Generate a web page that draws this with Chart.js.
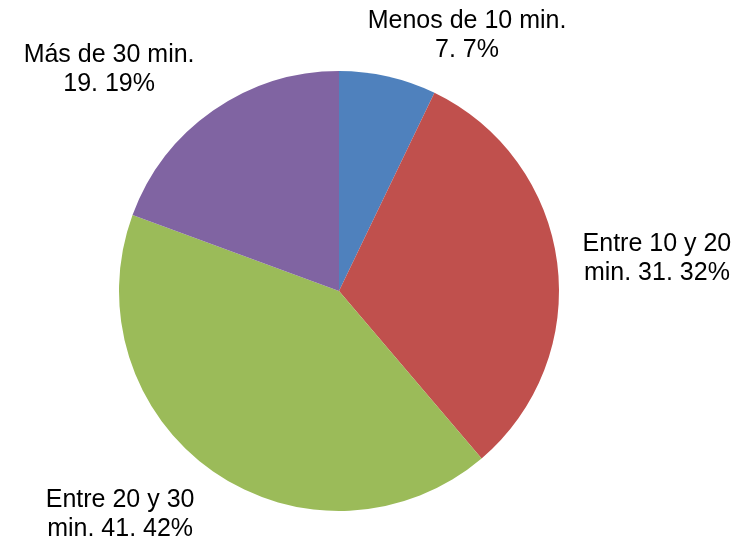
<!DOCTYPE html>
<html>
<head>
<meta charset="utf-8">
<script src="https://cdn.jsdelivr.net/npm/chart.js@4/dist/chart.umd.min.js"></script>
<style>
  html, body { margin: 0; padding: 0; background: #fff; }
  #wrap { width: 747px; height: 541px; }
</style>
</head>
<body>
<div id="wrap"><canvas id="myChart" width="747" height="541"></canvas></div>
<script>
const categories = ["Menos de 10 min.", "Entre 10 y 20 min.", "Entre 20 y 30 min.", "Más de 30 min."];
const values = [7, 31, 41, 19];
const colors = ["#4F81BD", "#C0504D", "#9BBB59", "#8064A2"];
// where each label sits, in units of the pie radius from its centre
const labelPos = [[0.582, -1.159], [1.445, -0.145], [-0.995, 1.016], [-1.045, -1.007]];
const wrapWidth = [212, 170, 170, 200];

const total = values.reduce((a, b) => a + b, 0);

function wrapText(ctx, text, maxW) {
  const words = text.split(" ");
  const lines = [];
  let line = "";
  words.forEach((w) => {
    const test = line ? line + " " + w : w;
    if (ctx.measureText(test).width > maxW && line) {
      lines.push(line);
      line = w;
    } else {
      line = test;
    }
  });
  if (line) lines.push(line);
  return lines;
}

// draws the outside labels like "Menos de 10 min. 7. 7%"
const outsideLabels = {
  id: "outsideLabels",
  afterDatasetsDraw(chart) {
    const ctx = chart.ctx;
    const arcs = chart.getDatasetMeta(0).data;
    if (!arcs.length) return;
    const cx = arcs[0].x;
    const cy = arcs[0].y;
    const r = arcs[0].outerRadius;
    ctx.save();
    ctx.font = '25px "Liberation Sans", Arial, sans-serif';
    ctx.fillStyle = "#000";
    ctx.textAlign = "center";
    ctx.textBaseline = "middle";
    const lineH = 29;
    categories.forEach((cat, i) => {
      const pct = Math.round((values[i] / total) * 100);
      const text = cat + " " + values[i] + ". " + pct + "%";
      const lines = wrapText(ctx, text, wrapWidth[i]);
      const x = cx + labelPos[i][0] * r;
      const y = cy + labelPos[i][1] * r;
      const y0 = y - ((lines.length - 1) * lineH) / 2;
      lines.forEach((ln, j) => ctx.fillText(ln, x, y0 + j * lineH));
    });
    ctx.restore();
  },
};

const data = {
  labels: categories,
  datasets: [
    {
      data: values,
      backgroundColor: colors,
      borderWidth: 0,
    },
  ],
};

const config = {
  type: "pie",
  data: data,
  options: {
    responsive: false,
    animation: false,
    layout: { padding: { left: 119, right: 188, top: 71, bottom: 30 } },
    plugins: {
      legend: { display: false },
      tooltip: { enabled: false },
    },
  },
  plugins: [outsideLabels],
};

const myChart = new Chart(document.getElementById("myChart"), config);
</script>
</body>
</html>
